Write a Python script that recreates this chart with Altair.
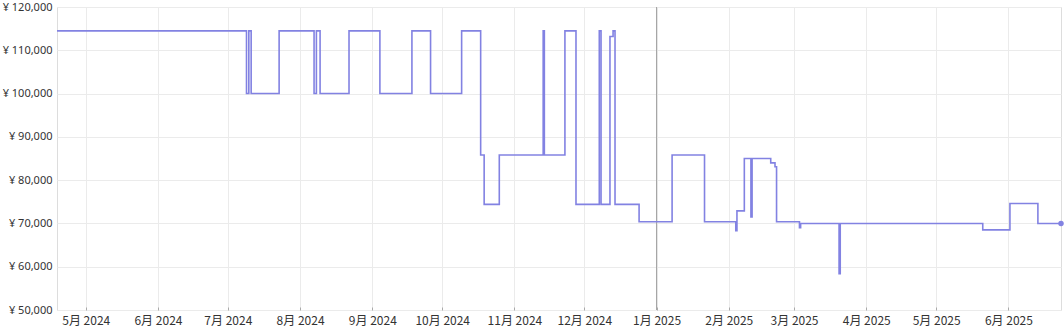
import altair as alt
import pandas as pd

# price history (step-after)
dates = [
    "2024-04-18T16:00:00", "2024-07-09T00:00:00", "2024-07-10T00:00:00", "2024-07-11T00:00:00",
    "2024-07-23T00:00:00", "2024-08-07T00:00:00", "2024-08-08T00:00:00", "2024-08-09T14:00:00",
    "2024-08-22T00:00:00", "2024-09-04T06:00:00", "2024-09-18T00:00:00", "2024-09-26T00:00:00",
    "2024-10-09T08:00:00", "2024-10-17T12:00:00", "2024-10-19T00:00:00", "2024-10-25T12:00:00",
    "2024-11-13T08:00:00", "2024-11-13T20:00:00", "2024-11-22T16:00:00", "2024-11-27T10:00:00",
    "2024-12-07T10:00:00", "2024-12-08T04:00:00", "2024-12-12T00:00:00", "2024-12-13T08:00:00",
    "2024-12-14T04:00:00", "2024-12-24T12:00:00", "2025-01-07T16:00:00", "2025-01-21T14:00:00",
    "2025-02-04T00:00:00", "2025-02-04T12:00:00", "2025-02-07T16:00:00", "2025-02-10T12:00:00",
    "2025-02-11T00:00:00", "2025-02-19T00:00:00", "2025-02-20T20:00:00", "2025-02-21T12:00:00",
    "2025-03-03T08:00:00", "2025-03-03T20:00:00", "2025-03-20T08:00:00", "2025-03-20T20:00:00",
    "2025-05-21T00:00:00", "2025-06-01T16:00:00", "2025-06-13T16:00:00", "2025-06-23T14:00:00",
]
prices = [
    114480, 100000, 114480, 100000,
    114480, 100000, 114480, 100000,
    114480, 100000, 114480, 100000,
    114480, 85800, 74400, 85800,
    114480, 85800, 114480, 74400,
    114480, 74400, 113200, 114480,
    74400, 70400, 85800, 70400,
    68300, 72900, 85000, 71500,
    85000, 84000, 83100, 70400,
    69000, 70000, 58400, 70000,
    68500, 74600, 70000, 70000,
]
marker_dates = ["2025-01-01T00:00:00"]

df = pd.DataFrame({"date": dates, "price": prices})
last = df.tail(1)
rule_df = pd.DataFrame({"date": marker_dates})

FONT_X = "Noto Sans CJK JP"
FONT_Y = "Noto Sans"

x_scale = alt.Scale(
    domain=[alt.DateTime(year=2024, month=4, date=18, hours=16),
            alt.DateTime(year=2025, month=6, date=23, hours=14)],
    nice=False,
)
y_scale = alt.Scale(domain=[50000, 120000], nice=False, zero=False)

x_axis = alt.Axis(
    title=None,
    tickCount={"interval": "month", "step": 1},
    labelExpr="(month(datum.value) + 1) + '月 ' + year(datum.value)",
    grid=True, gridColor="#ebebeb", gridWidth=1,
    domain=False, ticks=True, tickSize=3, tickColor="#aaaaaa", offset=-3,
    labelPadding=5, labelFont=FONT_X, labelFontSize=12, labelColor="#333333",
    labelOverlap=False,
)
y_axis = alt.Axis(
    title=None,
    values=[50000, 60000, 70000, 80000, 90000, 100000, 110000, 120000],
    labelExpr="'¥ ' + format(datum.value, ',')",
    grid=True, gridColor="#ebebeb", gridWidth=1,
    domain=False, ticks=False, labelPadding=5,
    labelFont=FONT_Y, labelFontSize=11, labelColor="#333333",
)

line = alt.Chart(df).mark_line(
    interpolate="step-after", color="#8282e2", strokeWidth=1.6
).encode(
    x=alt.X("date:T", scale=x_scale, axis=x_axis),
    y=alt.Y("price:Q", scale=y_scale, axis=y_axis),
)

dot = alt.Chart(last).mark_point(
    filled=True, color="#8282e2", size=30, opacity=1
).encode(
    x=alt.X("date:T", scale=x_scale),
    y=alt.Y("price:Q", scale=y_scale),
)

rule = alt.Chart(rule_df).mark_rule(color="#a0a0a0", strokeWidth=1).encode(
    x=alt.X("date:T", scale=x_scale),
)

chart = alt.layer(rule, line, dot).properties(
    width=1004, height=303,
    autosize=alt.AutoSizeParams(type="none"),
    padding={"left": 57, "top": 7, "right": 3, "bottom": 16},
).configure_view(
    stroke="#333333", strokeWidth=1
).configure(background="white")

chart.save("out.html", embed_options={"renderer": "svg", "actions": False})
